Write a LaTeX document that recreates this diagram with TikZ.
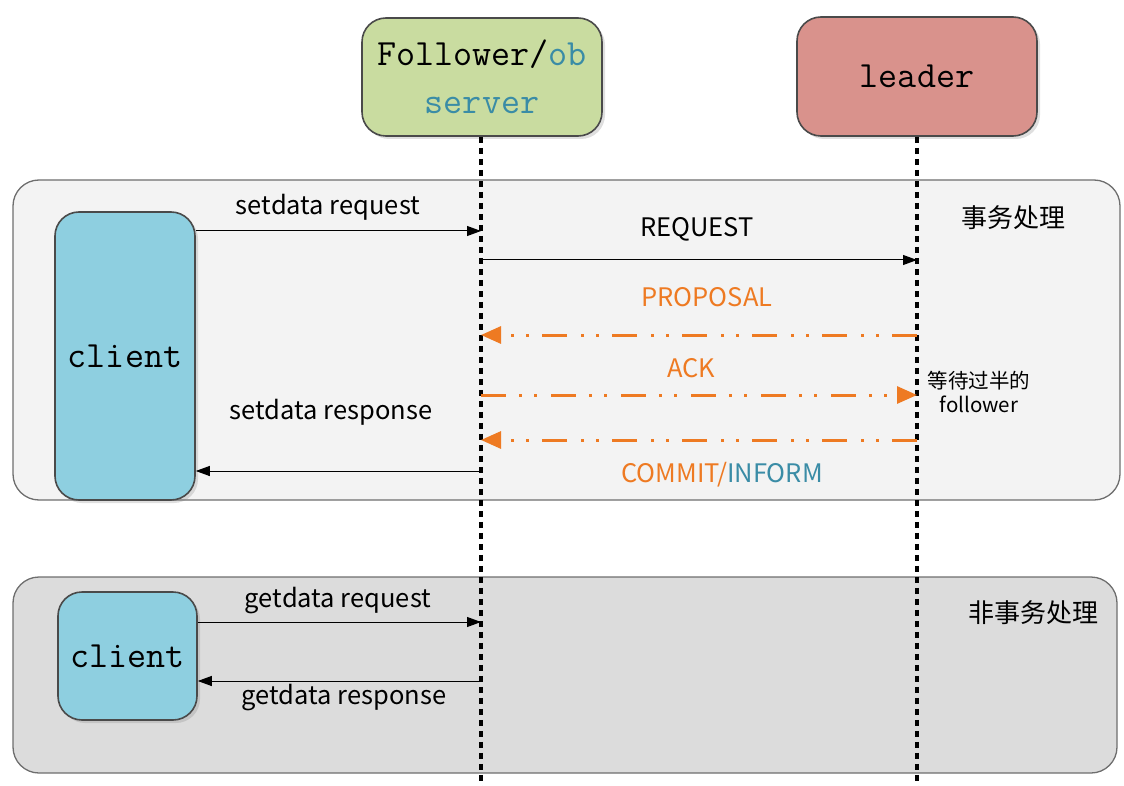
\documentclass[tikz,border=0pt]{standalone}
\usepackage{fontspec}
\newfontfamily\cjk{Noto Sans CJK SC}
\usetikzlibrary{arrows.meta,shadows}
\definecolor{grpA}{HTML}{F3F3F3}
\definecolor{grpB}{HTML}{DCDCDC}
\definecolor{folfill}{HTML}{C9DCA0}
\definecolor{leadfill}{HTML}{D9928C}
\definecolor{clifill}{HTML}{8ECFE0}
\definecolor{orng}{HTML}{EE7A22}
\definecolor{teal}{HTML}{3A8CA6}
\definecolor{edge}{HTML}{4A4A4A}
\tikzset{
  group/.style={draw=edge!80, line width=1.3pt, rounded corners=26pt},
  actor/.style={draw=edge, line width=1.6pt, rounded corners=24pt, font=\ttfamily\fontsize{37}{40}\selectfont,
    drop shadow={opacity=0.25, shadow xshift=3pt, shadow yshift=-3pt}},
  life/.style={line width=3.5pt, dash pattern=on 6pt off 5pt},
  msg/.style={line width=1pt, -{Triangle[length=14pt,width=10pt]}},
  amsg/.style={orng, line width=3pt, dash pattern=on 25pt off 13pt on 3pt off 12pt on 3pt off 14pt,
    -{Triangle[length=20pt,width=17pt]}},
  lbl/.style={font=\cjk\fontsize{25.5}{28}\selectfont, inner sep=0pt},
  olbl/.style={lbl, text=orng},
  cjklbl/.style={font=\cjk\fontsize{26}{30}\selectfont, inner sep=0pt}
}
\begin{document}
\begin{tikzpicture}[x=1pt,y=-1pt]
\useasboundingbox (0,0) rectangle (1124,786);
% groups
\node[group, fill=grpA, minimum width=1107pt, minimum height=320pt] (gA) at (566.5,340) {};
\node[group, fill=grpB, minimum width=1104pt, minimum height=196pt] (gB) at (565,675) {};
% actors
\node[actor, fill=folfill, minimum width=240pt, minimum height=118pt, align=center] (fol) at (482,77)
  {Follower/\textcolor{teal}{ob}\\[8pt]\textcolor{teal}{server}};
\node[actor, fill=leadfill, minimum width=240pt, minimum height=119pt] (lead) at (917,76.5) {leader};
% lifelines
\coordinate (fend) at (481,786);
\coordinate (lend) at (917,786);
\draw[life] (fol.south -| fend) -- (fend);
\draw[life] (lead.south) -- (lend);
% clients
\node[actor, fill=clifill, minimum width=140pt, minimum height=288pt] (cl1) at (125,356) {client};
\node[actor, fill=clifill, minimum width=139pt, minimum height=128pt] (cl2) at (127.5,656) {client};
% message points
\coordinate (f1) at (481,231);
\coordinate (f2) at (481,260);
\coordinate (l2) at (917,260);
\coordinate (f3) at (481,335);
\coordinate (l3) at (917,335);
\coordinate (f4) at (481,395);
\coordinate (l4) at (917,395);
\coordinate (f5) at (481,440);
\coordinate (l5) at (917,440);
\coordinate (f6) at (481,471);
\coordinate (g1) at (481,622);
\coordinate (g2) at (481,681);
% messages
\draw[msg] (cl1.east |- f1) -- (f1);
\draw[msg] (f2) -- (l2);
\draw[amsg] (l3) -- (f3);
\draw[amsg] (f4) -- (l4);
\draw[amsg] (l5) -- (f5);
\draw[msg] (f6) -- (cl1.east |- f6);
\draw[msg] (cl2.east |- g1) -- (g1);
\draw[msg] (g2) -- (cl2.east |- g2);
% labels
\node[lbl] (t1) at (328,207) {setdata request};
\node[lbl] (t2) at (697,229) {REQUEST};
\node[olbl] (t3) at (707,297) {PROPOSAL};
\node[olbl] (t4) at (691,368) {ACK};
\node[olbl] (t5) at (722,475) {COMMIT/\textcolor{teal}{INFORM}};
\node[lbl] (t6) at (331,412) {setdata response};
\node[lbl] (t7) at (338,601) {getdata request};
\node[lbl] (t8) at (344,698) {getdata response};
\node[cjklbl] (t9) at (1013,218) {事务处理};
\node[cjklbl] (t10) at (1033,613) {非事务处理};
\node[font=\cjk\fontsize{20.5}{24}\selectfont, inner sep=0pt, align=center] (t11) at (979,392) {等待过半的\\follower};
\end{tikzpicture}
\end{document}
